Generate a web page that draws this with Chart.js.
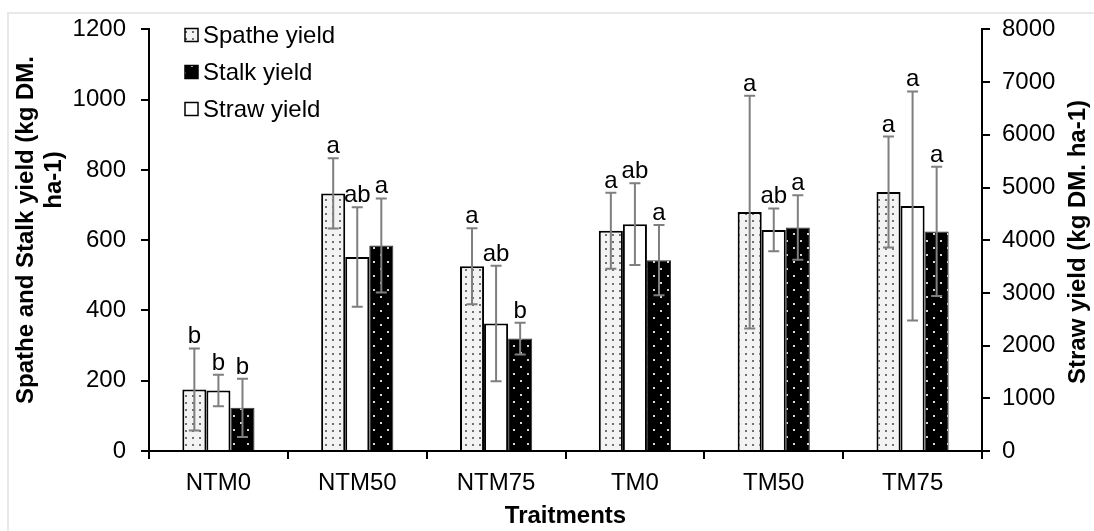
<!DOCTYPE html>
<html>
<head>
<meta charset="utf-8">
<script src="https://cdn.jsdelivr.net/npm/chart.js@4.4.0/dist/chart.umd.min.js"></script>
<style>
  html, body { margin: 0; padding: 0; background: #fff; }
  #wrap { width: 1094px; height: 531px; }
</style>
</head>
<body>
<div id="wrap"><canvas id="myChart" width="1094" height="531"></canvas></div>
<script>
const categories = ['NTM0', 'NTM50', 'NTM75', 'TM0', 'TM50', 'TM75']

// kg DM / ha (left axis)
const spathe = [175, 733, 526, 627, 680, 737]
const spatheErr = [117, 100, 108, 108, 331, 158]
const stalk = [123, 585, 320, 543, 636, 625]
const stalkErr = [83, 134, 45, 100, 92, 184]
// kg DM / ha (right axis)
const straw = [1147, 3680, 2420, 4305, 4195, 4650]
const strawErr = [300, 945, 1095, 777, 407, 2173]

// letters of significance
const spatheSig = ['b', 'a', 'a', 'a', 'a', 'a']
const strawSig = ['b', 'ab', 'ab', 'ab', 'ab', 'a']
const stalkSig = ['b', 'a', 'b', 'a', 'a', 'a']

const leftTicks = [0, 1200, 200]
const rightTicks = [0, 8000, 1000]

const FONT = "'Liberation Sans', Arial, sans-serif"

function makePattern(size, bg, dot, dots) {
  const c = document.createElement('canvas')
  c.width = size
  c.height = size
  const cx = c.getContext('2d')
  cx.fillStyle = bg
  cx.fillRect(0, 0, size, size)
  cx.fillStyle = dot
  dots.forEach(([x, y]) => cx.fillRect(x, y, 2, 2))
  return cx.createPattern(c, 'repeat')
}

const spatheFill = makePattern(7, '#f3f3f3', '#707070', [[3, 3]])
const stalkFill = makePattern(14, '#000000', '#d8d8d8', [[2, 2], [9, 9]])

const errs = [spatheErr, strawErr, stalkErr]
const sigs = [spatheSig, strawSig, stalkSig]

// error bars + letters
const errorBars = {
  id: 'errorBars',
  afterDatasetsDraw(chart) {
    const ctx = chart.ctx
    ctx.save()
    chart.data.datasets.forEach((ds, i) => {
      const meta = chart.getDatasetMeta(i)
      const scale = chart.scales[ds.yAxisID]
      meta.data.forEach((bar, j) => {
        const v = ds.data[j]
        const e = errs[i][j]
        const top = scale.getPixelForValue(v + e)
        const bot = scale.getPixelForValue(v - e)
        ctx.strokeStyle = '#7f7f7f'
        ctx.lineWidth = 2
        ctx.beginPath()
        ctx.moveTo(bar.x, top)
        ctx.lineTo(bar.x, bot)
        ctx.moveTo(bar.x - 5.5, top)
        ctx.lineTo(bar.x + 5.5, top)
        ctx.moveTo(bar.x - 5.5, bot)
        ctx.lineTo(bar.x + 5.5, bot)
        ctx.stroke()
        ctx.fillStyle = '#000'
        ctx.font = '24px ' + FONT
        ctx.textAlign = 'center'
        ctx.textBaseline = 'alphabetic'
        ctx.fillText(sigs[i][j], bar.x, top - 5)
      })
    })
    ctx.restore()
  }
}

function vText(ctx, text, x, y) {
  ctx.save()
  ctx.translate(x, y)
  ctx.rotate(-Math.PI / 2)
  ctx.fillText(text, 0, 0)
  ctx.restore()
}

// legend, y titles and the faint frame
const extras = {
  id: 'extras',
  beforeDraw(chart) {
    const ctx = chart.ctx
    ctx.save()
    ctx.strokeStyle = '#e8e8e8'
    ctx.lineWidth = 2
    ctx.beginPath()
    ctx.moveTo(8, 531)
    ctx.lineTo(8, 13)
    ctx.lineTo(1094, 13)
    ctx.stroke()
    ctx.restore()
  },
  afterDraw(chart) {
    const ctx = chart.ctx
    ctx.save()
    const items = [
      ['Spathe yield', spatheFill],
      ['Stalk yield', stalkFill],
      ['Straw yield', '#ffffff']
    ]
    items.forEach(([text, fill], k) => {
      const y = 35 + k * 37
      ctx.fillStyle = fill
      ctx.fillRect(185, y - 6.5, 13, 13)
      ctx.strokeStyle = '#000'
      ctx.lineWidth = 1.5
      ctx.strokeRect(185, y - 6.5, 13, 13)
      ctx.fillStyle = '#000'
      ctx.font = '24px ' + FONT
      ctx.textAlign = 'left'
      ctx.textBaseline = 'middle'
      ctx.fillText(text, 203, y + 1)
    })
    ctx.font = 'bold 24px ' + FONT
    ctx.textAlign = 'center'
    ctx.textBaseline = 'middle'
    vText(ctx, 'Spathe and Stalk yield (kg DM.', 26, 230)
    vText(ctx, 'ha-1)', 54, 180)
    vText(ctx, 'Straw yield (kg DM. ha-1)', 1078, 242)
    ctx.restore()
  }
}

const axisLine = { display: true, color: '#000', width: 2 }
const tickGrid = { display: true, drawOnChartArea: false, drawTicks: true, tickLength: 8, color: '#000', lineWidth: 2 }
const plain = v => String(v)

const config = {
  type: 'bar',
  data: {
    labels: categories,
    datasets: [
      {
        label: 'Spathe yield',
        data: spathe,
        yAxisID: 'y',
        backgroundColor: spatheFill,
        borderColor: '#000',
        borderWidth: 2
      },
      {
        label: 'Straw yield',
        data: straw,
        yAxisID: 'y2',
        backgroundColor: '#fff',
        borderColor: '#000',
        borderWidth: 2
      },
      {
        label: 'Stalk yield',
        data: stalk,
        yAxisID: 'y',
        backgroundColor: stalkFill,
        borderColor: '#333',
        borderWidth: 1
      }
    ]
  },
  options: {
    responsive: false,
    animation: false,
    devicePixelRatio: 1,
    layout: { padding: { top: 28, left: 0, right: 0, bottom: 0 } },
    datasets: { bar: { categoryPercentage: 0.52, barPercentage: 1 } },
    plugins: { legend: { display: false }, tooltip: { enabled: false } },
    scales: {
      x: {
        grid: { ...tickGrid, offset: true },
        border: axisLine,
        ticks: { color: '#000', font: { family: FONT, size: 24 }, padding: 10 },
        title: { display: true, text: 'Traitments', color: '#000', font: { family: FONT, size: 24, weight: 'bold' }, padding: 0 },
        afterFit: s => { s.height = 80 }
      },
      y: {
        position: 'left',
        min: leftTicks[0],
        max: leftTicks[1],
        ticks: { stepSize: leftTicks[2], color: '#000', font: { family: FONT, size: 24 }, padding: 15, callback: plain },
        grid: tickGrid,
        border: axisLine,
        afterFit: s => { s.width = 149 }
      },
      y2: {
        position: 'right',
        min: rightTicks[0],
        max: rightTicks[1],
        ticks: { stepSize: rightTicks[2], color: '#000', font: { family: FONT, size: 24 }, padding: 12, callback: plain },
        grid: tickGrid,
        border: axisLine,
        afterFit: s => { s.width = 112 }
      }
    }
  },
  plugins: [extras, errorBars]
}

const myChart = new Chart(document.getElementById('myChart'), config)
</script>
</body>
</html>
